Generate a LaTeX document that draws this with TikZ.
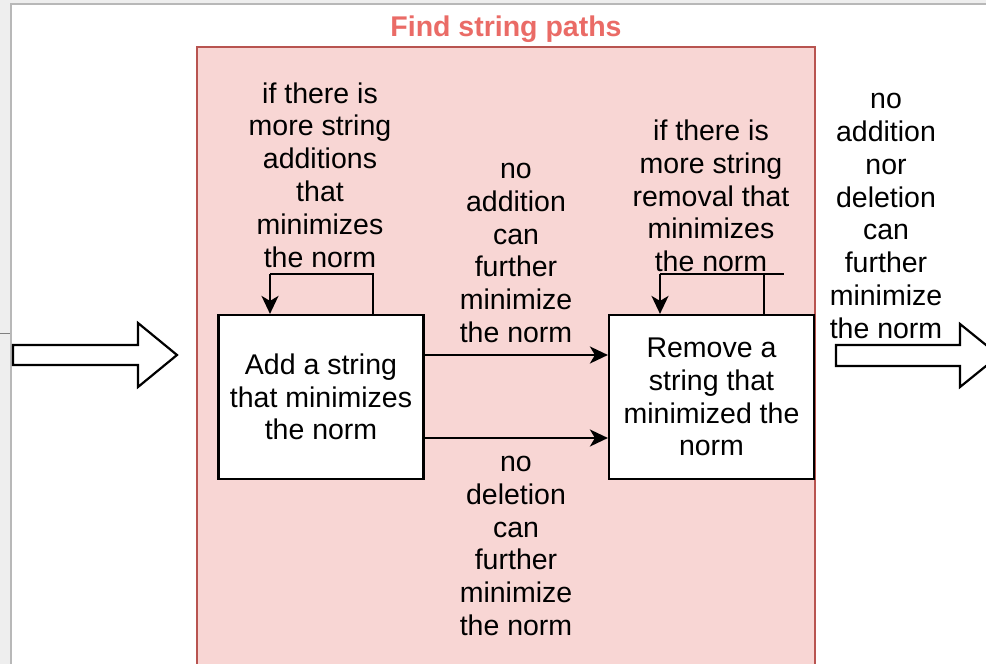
\documentclass[tikz,border=0pt]{standalone}
\usepackage{fontspec}
\setmainfont{Liberation Sans}
\usetikzlibrary{arrows.meta}
\definecolor{grayback}{HTML}{EEEEEE}
\definecolor{grayline}{HTML}{B8B8B8}
\definecolor{contfill}{HTML}{F8D6D4}
\definecolor{contdraw}{HTML}{B85450}
\definecolor{titlecol}{HTML}{EA6B66}
\tikzset{
  lbl/.style={align=center, inner sep=0pt, font=\fontsize{28.5}{32.8}\selectfont},
  procbox/.style={draw=black, line width=2.2pt, fill=white, minimum width=205pt, minimum height=164pt, inner sep=0pt, align=center, font=\fontsize{28.5}{32.8}\selectfont},
  arr/.style={line width=2.2pt, -{Stealth[length=18pt,width=17pt,inset=5pt]}},
  loopline/.style={line width=2.2pt},
  bigarrow/.style={draw=black, line width=2.2pt, fill=white, line join=miter}
}
\begin{document}
\begin{tikzpicture}[x=1pt,y=-1pt]
\useasboundingbox (0,0) rectangle (986,664);
% screenshot frame
\fill[grayback] (0,0) rectangle (986,664);
\fill[white] (11,4) rectangle (990,670);
\draw[grayline, line width=1.5pt] (11,670) -- (11,4) -- (990,4);
\draw[gray, line width=1pt] (0,333) -- (10,333);
% container
\draw[fill=contfill, draw=contdraw, line width=2.4pt] (197,680) -- (197,47) -- (815,47) -- (815,680);
\node[font=\fontsize{28.5}{33}\selectfont\bfseries, text=titlecol, inner sep=0pt] (title) at (506,29) {Find string paths};
% boxes
\node[procbox] (A) at (321,397) {Add a string\\that minimizes\\the norm};
\node[procbox] (R) at (711.5,397) {Remove a\\string that\\minimized the\\norm};
% loops
\draw[loopline] (A.north -| 373,0) -- (373,274) -- (270,274);
\draw[arr] (270,274) -- (A.north -| 270,0);
\draw[loopline] (R.north -| 764,0) -- (764,274) -- (660,274);
\draw[loopline] (764,274) -- (784,274);
\draw[arr] (660,274) -- (R.north -| 660,0);
% connectors
\draw[arr] ([yshift=42pt]A.east) -- ([yshift=42pt]R.west);
\draw[arr] ([yshift=-41pt]A.east) -- ([yshift=-41pt]R.west);
% big hollow arrows
\draw[bigarrow] (13,345) -- (138,345) -- (138,323) -- (177,355) -- (138,387) -- (138,365) -- (13,365) -- cycle;
\draw[bigarrow] (836,345) -- (960,345) -- (960,324) -- (999,355.5) -- (960,387) -- (960,366) -- (836,366) -- cycle;
% labels
\node[lbl] (l1) at (320,175) {if there is\\more string\\additions\\that\\minimizes\\the norm};
\node[lbl] (l2) at (516,253) {no\\addition\\can\\further\\minimize\\the norm};
\node[lbl] (l3) at (711,196) {if there is\\more string\\removal that\\minimizes\\the norm};
\node[lbl] (l4) at (886,216) {no\\addition\\nor\\deletion\\can\\further\\minimize\\the norm};
\node[lbl] (l5) at (516,546) {no\\deletion\\can\\further\\minimize\\the norm};
\end{tikzpicture}
\end{document}
